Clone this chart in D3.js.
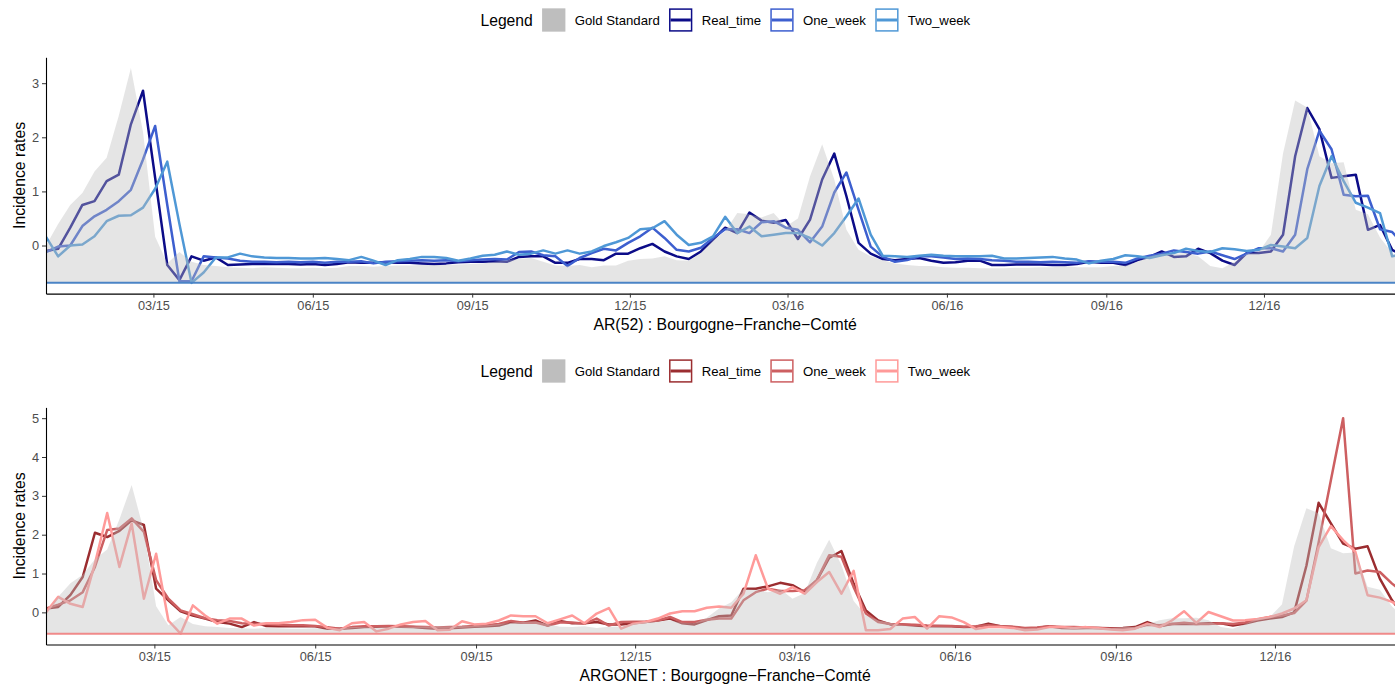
<!DOCTYPE html>
<html><head><meta charset="utf-8">
<script src="https://cdn.jsdelivr.net/npm/d3@7"></script>
<style>
body{margin:0;background:#fff}
svg{display:block}
text{font-family:"Liberation Sans",Arial,Helvetica,sans-serif}
</style>
</head><body>
<svg id="chart" width="1395" height="684"></svg>
<script>
// ---------- DATA ----------
const firstWeek = "2014-12-29";          // first weekly observation
const weeksTop = 113;                     // number of weekly points, AR(52) panel
const weeksBottom = 112;                  // number of weekly points, ARGONET panel
const xTickDates = ["2015-03-01","2015-06-01","2015-09-01","2015-12-01","2016-03-01","2016-06-01","2016-09-01","2016-12-01"];
const seriesNames = ["Gold Standard","Real_time","One_week","Two_week"];
const yTicksTop = [0,1,2,3];
const yTicksBottom = [0,1,2,3,4,5];
const panelTitles = ["AR(52) : Bourgogne\u2212Franche\u2212Comté","ARGONET : Bourgogne\u2212Franche\u2212Comté"];

const goldStandard = [0.0,0.4,0.75,0.97,1.37,1.62,2.4,3.28,2.1,0.16,-0.33,-0.12,-0.3,-0.36,-0.38,-0.4,-0.41,-0.42,-0.4,-0.41,
-0.42,-0.42,-0.41,-0.42,-0.41,-0.38,-0.38,-0.39,-0.38,-0.37,-0.37,-0.36,-0.36,-0.36,-0.35,-0.34,-0.33,-0.3,-0.27,-0.25,
-0.23,-0.3,-0.37,-0.38,-0.36,-0.4,-0.37,-0.37,-0.28,-0.25,-0.24,-0.2,-0.27,-0.28,-0.14,0.1,0.26,0.6,0.58,0.52,
0.6,0.35,0.5,1.28,1.87,1.22,0.29,-0.08,-0.2,-0.27,-0.33,-0.36,-0.38,-0.38,-0.4,-0.41,-0.41,-0.42,-0.42,-0.42,
-0.41,-0.41,-0.4,-0.4,-0.38,-0.4,-0.4,-0.4,-0.38,-0.37,-0.3,-0.2,-0.15,-0.15,-0.14,-0.2,-0.38,-0.42,-0.3,-0.15,
-0.12,0.2,1.7,2.68,2.55,1.65,1.52,1.54,0.66,0.58,0.15,-0.14,-0.3];

const ar52RealTime = [-0.1,-0.06,0.33,0.75,0.82,1.19,1.31,2.24,2.86,1.25,-0.36,-0.64,-0.2,-0.28,-0.22,-0.36,-0.35,-0.34,-0.34,-0.34,
-0.34,-0.35,-0.34,-0.36,-0.34,-0.31,-0.32,-0.32,-0.31,-0.32,-0.32,-0.33,-0.34,-0.33,-0.31,-0.3,-0.3,-0.29,-0.3,-0.21,
-0.2,-0.2,-0.32,-0.32,-0.25,-0.25,-0.27,-0.15,-0.15,-0.05,0.03,-0.11,-0.2,-0.25,-0.11,0.11,0.33,0.23,0.61,0.46,
0.42,0.47,0.12,0.48,1.22,1.7,0.91,0.05,-0.15,-0.25,-0.27,-0.25,-0.23,-0.28,-0.32,-0.31,-0.28,-0.28,-0.36,-0.36,
-0.35,-0.35,-0.35,-0.36,-0.36,-0.34,-0.3,-0.32,-0.32,-0.36,-0.27,-0.21,-0.11,-0.21,-0.2,-0.06,-0.14,-0.28,-0.36,-0.14,
-0.14,-0.11,0.2,1.65,2.54,2.15,1.25,1.28,1.31,0.29,0.38,-0.08,-0.2];

const ar52OneWeek = [-0.12,-0.02,0.0,0.36,0.54,0.66,0.82,1.03,1.59,2.21,0.75,-0.66,-0.66,-0.2,-0.22,-0.24,-0.28,-0.3,-0.3,-0.31,
-0.3,-0.31,-0.3,-0.32,-0.3,-0.3,-0.29,-0.33,-0.3,-0.29,-0.28,-0.27,-0.28,-0.27,-0.29,-0.27,-0.26,-0.25,-0.26,-0.12,
-0.11,-0.18,-0.2,-0.38,-0.23,-0.14,-0.06,-0.09,0.05,0.17,0.33,0.14,-0.08,-0.11,-0.04,0.14,0.3,0.3,0.23,0.43,
0.45,0.33,0.29,0.06,0.35,0.98,1.35,0.66,-0.02,-0.21,-0.3,-0.27,-0.2,-0.2,-0.22,-0.25,-0.24,-0.25,-0.27,-0.28,
-0.3,-0.3,-0.31,-0.3,-0.31,-0.32,-0.29,-0.3,-0.3,-0.32,-0.24,-0.19,-0.15,-0.09,-0.12,-0.15,-0.11,-0.18,-0.25,-0.15,
-0.05,-0.05,-0.11,0.2,1.41,2.12,1.78,0.94,0.91,0.92,0.3,0.25,0.0];

const ar52TwoWeek = [0.16,-0.2,0.0,0.02,0.17,0.45,0.55,0.56,0.7,1.05,1.55,0.4,-0.69,-0.5,-0.22,-0.22,-0.15,-0.2,-0.22,-0.23,
-0.23,-0.24,-0.24,-0.23,-0.25,-0.27,-0.21,-0.28,-0.36,-0.27,-0.25,-0.21,-0.21,-0.23,-0.28,-0.24,-0.19,-0.17,-0.11,-0.17,
-0.15,-0.09,-0.15,-0.09,-0.15,-0.11,-0.01,0.06,0.14,0.3,0.32,0.45,0.2,0.01,0.05,0.17,0.53,0.23,0.35,0.17,
0.2,0.23,0.23,0.14,0.0,0.23,0.54,0.87,0.2,-0.19,-0.2,-0.21,-0.19,-0.17,-0.19,-0.2,-0.2,-0.2,-0.19,-0.24,
-0.24,-0.23,-0.22,-0.21,-0.24,-0.26,-0.33,-0.28,-0.25,-0.18,-0.2,-0.23,-0.18,-0.14,-0.06,-0.1,-0.12,-0.05,-0.07,-0.1,
-0.08,0.01,-0.02,-0.05,0.14,1.1,1.65,1.19,0.79,0.7,0.6,-0.2,-0.15];

const argonetRealTime = [0.1,0.14,0.45,0.91,2.05,1.94,2.1,2.37,2.25,0.61,0.31,0.03,-0.08,-0.16,-0.25,-0.29,-0.38,-0.25,-0.35,-0.36,
-0.35,-0.36,-0.36,-0.42,-0.42,-0.4,-0.38,-0.37,-0.36,-0.37,-0.38,-0.4,-0.42,-0.41,-0.39,-0.37,-0.36,-0.34,-0.25,-0.27,
-0.21,-0.34,-0.22,-0.28,-0.28,-0.25,-0.31,-0.31,-0.28,-0.25,-0.21,-0.16,-0.28,-0.31,-0.2,-0.1,-0.08,0.61,0.61,0.67,
0.76,0.7,0.52,0.83,1.4,1.58,0.74,0.05,-0.21,-0.31,-0.31,-0.34,-0.36,-0.35,-0.36,-0.38,-0.37,-0.29,-0.36,-0.38,
-0.42,-0.4,-0.36,-0.4,-0.41,-0.4,-0.4,-0.41,-0.4,-0.38,-0.25,-0.36,-0.3,-0.3,-0.3,-0.28,-0.28,-0.34,-0.29,-0.21,
-0.16,-0.12,0.0,1.2,2.82,2.29,1.77,1.64,1.7,0.87,0.31,-0.1];

const argonetOneWeek = [0.1,0.2,0.31,0.52,1.17,2.12,2.16,2.42,2.07,0.83,0.35,0.05,-0.05,-0.15,-0.2,-0.22,-0.28,-0.3,-0.3,-0.32,
-0.33,-0.33,-0.35,-0.38,-0.42,-0.38,-0.36,-0.36,-0.35,-0.36,-0.37,-0.38,-0.39,-0.38,-0.37,-0.35,-0.33,-0.3,-0.22,-0.27,
-0.26,-0.34,-0.26,-0.26,-0.29,-0.16,-0.34,-0.25,-0.24,-0.24,-0.21,-0.12,-0.25,-0.25,-0.19,-0.16,-0.16,0.31,0.52,0.61,
0.55,0.55,0.57,0.83,1.47,1.43,0.65,-0.03,-0.25,-0.3,-0.31,-0.32,-0.34,-0.35,-0.35,-0.37,-0.36,-0.33,-0.36,-0.37,
-0.4,-0.39,-0.36,-0.38,-0.38,-0.39,-0.4,-0.42,-0.42,-0.4,-0.32,-0.33,-0.3,-0.27,-0.3,-0.3,-0.28,-0.3,-0.26,-0.18,
-0.12,-0.08,-0.02,0.3,1.8,3.4,5.0,1.0,1.08,1.04,0.74,0.5];

const argonetTwoWeek = [0.0,0.4,0.22,0.14,1.26,2.56,1.17,2.29,0.35,1.51,-0.21,-0.55,0.18,-0.08,-0.29,-0.16,-0.16,-0.34,-0.28,-0.28,
-0.25,-0.2,-0.19,-0.4,-0.46,-0.28,-0.25,-0.49,-0.42,-0.31,-0.25,-0.22,-0.46,-0.45,-0.23,-0.31,-0.29,-0.21,-0.08,-0.1,
-0.1,-0.28,-0.18,-0.08,-0.28,-0.03,0.11,-0.42,-0.29,-0.25,-0.16,-0.03,0.03,0.03,0.12,0.15,0.12,0.48,1.47,0.61,
0.48,0.65,0.48,0.78,1.04,0.48,1.07,-0.46,-0.46,-0.43,-0.16,-0.12,-0.42,-0.1,-0.13,-0.25,-0.43,-0.38,-0.38,-0.4,
-0.46,-0.44,-0.38,-0.38,-0.4,-0.38,-0.41,-0.44,-0.46,-0.42,-0.29,-0.38,-0.21,0.03,-0.27,0.01,-0.1,-0.21,-0.2,-0.17,
-0.12,-0.03,0.1,0.31,1.68,2.22,1.86,1.56,0.44,0.38,0.27,0.1];

// ---------- DRAWING ----------
const svg = d3.select("#chart");
const parse = d3.utcParse("%Y-%m-%d");
const start = parse(firstWeek);
const fmt = d3.utcFormat("%m/%y");
const tickDates = xTickDates.map(parse);

const panels = [
  {n: weeksTop, series:[ar52RealTime, ar52OneWeek, ar52TwoWeek], yTicks:yTicksTop,
   colors:["#0c0c88","#3d5fcf","#4f98d6"], hline:"#4b84c6",
   top:57.3, bottom:293.6, legendY:20, title:panelTitles[0], titleY:330},
  {n: weeksBottom, series:[argonetRealTime, argonetOneWeek, argonetTwoWeek], yTicks:yTicksBottom,
   colors:["#9b2d30","#cd5f61","#ff9a99"], hline:"#f08a8a",
   top:407.4, bottom:644.5, legendY:371, title:panelTitles[1], titleY:681}
];

const left = 46, right = 1404.3;

panels.forEach((p, pi) => {
  const dates = d3.range(p.n).map(i => d3.utcDay.offset(start, 7*i));
  const gold = goldStandard.slice(0, p.n);
  const all = [gold, ...p.series].flat();
  const vmin = d3.min(all), vmax = d3.max(all);
  const pad = (vmax - vmin) * 0.05;

  const x = d3.scaleUtc().domain([dates[0], dates[dates.length-1]]).range([left, right]);
  const y = d3.scaleLinear().domain([vmin - pad, vmax + pad]).range([p.bottom, p.top]);

  const g = svg.append("g");
  const clipId = "clip" + pi;
  svg.append("clipPath").attr("id", clipId).append("rect")
     .attr("x", left).attr("y", p.top).attr("width", right-left).attr("height", p.bottom-p.top);
  const plot = g.append("g").attr("clip-path", `url(#${clipId})`);

  const line = d3.line().x((d,i) => x(dates[i])).y(d => y(d));
  p.series.forEach((s, si) => {
    plot.append("path").datum(s)
      .attr("d", line).attr("fill","none")
      .attr("stroke", p.colors[si]).attr("stroke-width", 2.5)
      .attr("stroke-linejoin","round").attr("stroke-linecap","butt");
  });

  const area = d3.area().x((d,i) => x(dates[i])).y0(y(vmin)).y1(d => y(d));
  plot.append("path").datum(gold)
    .attr("d", area).attr("fill", "#bebebe").attr("fill-opacity", 0.4);

  plot.append("line")
    .attr("x1", left).attr("x2", right).attr("y1", y(vmin)).attr("y2", y(vmin))
    .attr("stroke", p.hline).attr("stroke-width", 2);

  // axes
  const yAxis = d3.axisLeft(y).tickValues(p.yTicks).tickFormat(d3.format("d"))
      .tickSize(4).tickSizeOuter(0).tickPadding(3);
  const ya = g.append("g").attr("transform", `translate(${left},0)`).call(yAxis);
  const xAxis = d3.axisBottom(x).tickValues(tickDates).tickFormat(fmt)
      .tickSize(4).tickSizeOuter(0).tickPadding(3);
  const xa = g.append("g").attr("transform", `translate(0,${p.bottom})`).call(xAxis);
  [ya, xa].forEach(a => {
    a.select(".domain").attr("stroke","#000").attr("stroke-width",1.1);
    a.selectAll(".tick line").attr("stroke","#333").attr("stroke-width",1);
    a.selectAll(".tick text").attr("fill","#4d4d4d").style("font-size","12.8px")
      .style("font-family",'"Liberation Sans",Arial,sans-serif');
  });

  g.append("text").attr("transform", `translate(${19},${(p.top+p.bottom)/2}) rotate(-90)`)
    .attr("text-anchor","middle").attr("dy","0.35em").style("font-size","15.8px").attr("fill","#000")
    .text("Incidence rates");
  g.append("text").attr("x", (left+right)/2).attr("y", p.titleY)
    .attr("text-anchor","middle").style("font-size","15.8px").attr("fill","#000")
    .text(p.title);

  // legend
  const lg = g.append("g");
  const key = 23.3, gap = 9.3;
  let cx = 0;
  const t0 = lg.append("text").attr("x", cx).attr("y", 0).attr("dy","0.35em")
    .style("font-size","15.7px").text("Legend");
  cx += t0.node().getComputedTextLength() + gap;
  seriesNames.forEach((name, k) => {
    if (k === 0) {
      lg.append("rect").attr("x", cx).attr("y", -key/2).attr("width", key).attr("height", key)
        .attr("fill","#bebebe");
    } else {
      const c = p.colors[k-1];
      lg.append("rect").attr("x", cx+0.75).attr("y", -key/2+0.75).attr("width", key-1.5).attr("height", key-1.5)
        .attr("fill","#fff").attr("stroke", c).attr("stroke-width",1.5);
      lg.append("line").attr("x1", cx+1.5).attr("x2", cx+key-1.5).attr("y1",0).attr("y2",0)
        .attr("stroke", c).attr("stroke-width",3);
    }
    cx += key + gap;
    const t = lg.append("text").attr("x", cx).attr("y", 0).attr("dy","0.35em")
      .style("font-size","13.2px").text(name);
    cx += t.node().getComputedTextLength() + (k < seriesNames.length-1 ? gap : 0);
  });
  lg.attr("transform", `translate(${725.3 - cx/2},${p.legendY})`);
});
</script>
</body></html>
